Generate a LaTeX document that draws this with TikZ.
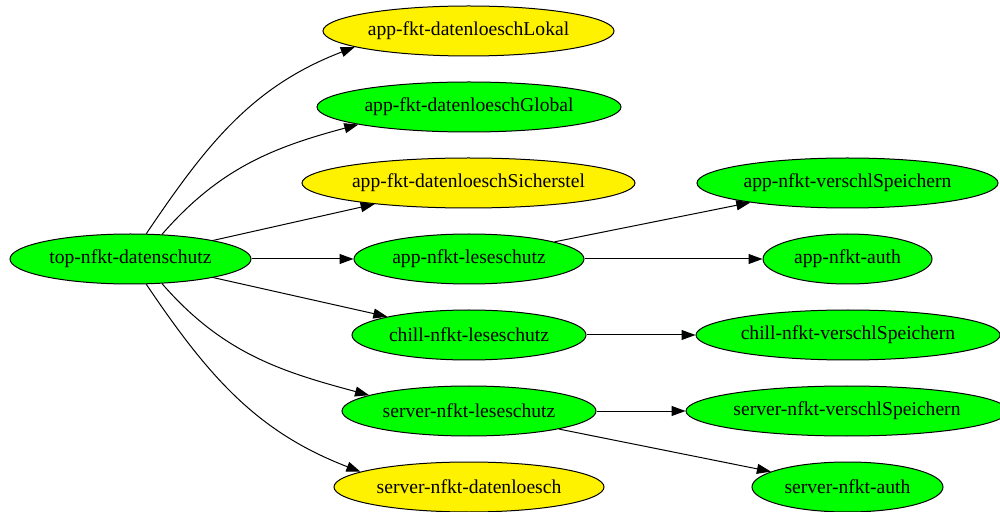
\documentclass[tikz,border=0pt]{standalone}
\usepackage{fontspec}
\setmainfont{Liberation Serif}
\usetikzlibrary{shapes.geometric,arrows.meta}
\begin{document}
\begin{tikzpicture}[x=0.75pt,y=0.75pt,
  gv/.style={ellipse,draw=black,line width=0.75pt,inner sep=0pt,
             minimum height=37.5pt,font=\fontsize{14.7}{17}\selectfont},
  gr/.style={gv,fill=green},
  ye/.style={gv,fill=yellow},
  edge/.style={line width=0.75pt,-{Triangle[length=10.5pt,width=7.5pt]}}]
\useasboundingbox (0,0) rectangle (1000,511);

% root
\node[gr,minimum width=180.75pt] (top) at (130.5,252) {top-nfkt-datenschutz};

% middle column
\node[ye,minimum width=218.25pt] (lokal)       at (468.5,480) {app-fkt-datenloeschLokal};
\node[gr,minimum width=228pt]    (global)      at (469,404)   {app-fkt-datenloeschGlobal};
\node[ye,minimum width=249.75pt] (sich)        at (468.5,328) {app-fkt-datenloeschSicherstel};
\node[gr,minimum width=172.5pt]  (applese)     at (469,252)   {app-nfkt-leseschutz};
\node[gr,minimum width=175.5pt]  (chill)       at (469,176)   {chill-nfkt-leseschutz};
\node[gr,minimum width=190.5pt]  (serverlese)  at (469,100)   {server-nfkt-leseschutz};
\node[ye,minimum width=202.5pt]  (serverdaten) at (469,24)    {server-nfkt-datenloesch};

% right column
\node[gr,minimum width=225.75pt] (appverschl)    at (847.5,328) {app-nfkt-verschlSpeichern};
\node[gr,minimum width=126.75pt] (appauth)       at (847.5,252) {app-nfkt-auth};
\node[gr,minimum width=228pt]    (chillverschl)  at (848,176)   {chill-nfkt-verschlSpeichern};
\node[gr,minimum width=241.5pt]  (serververschl) at (847,100)   {server-nfkt-verschlSpeichern};
\node[gr,minimum width=143.25pt] (serverauth)    at (847.5,24)  {server-nfkt-auth};

% edges from the root
\draw[edge] (top.58)  to[out=56,in=201]  (lokal.188);
\draw[edge] (top.38)  to[out=49,in=195]  (global.189);
\draw[edge] (top) -- (sich);
\draw[edge] (top) -- (applese);
\draw[edge] (top) -- (chill);
\draw[edge] (top.-38) to[out=-49,in=165] (serverlese.171);
\draw[edge] (top.-58) to[out=-56,in=159] (serverdaten.172);

% second level edges
\draw[edge] (applese) -- (appverschl);
\draw[edge] (applese) -- (appauth);
\draw[edge] (chill) -- (chillverschl);
\draw[edge] (serverlese) -- (serververschl);
\draw[edge] (serverlese) -- (serverauth);
\end{tikzpicture}
\end{document}
